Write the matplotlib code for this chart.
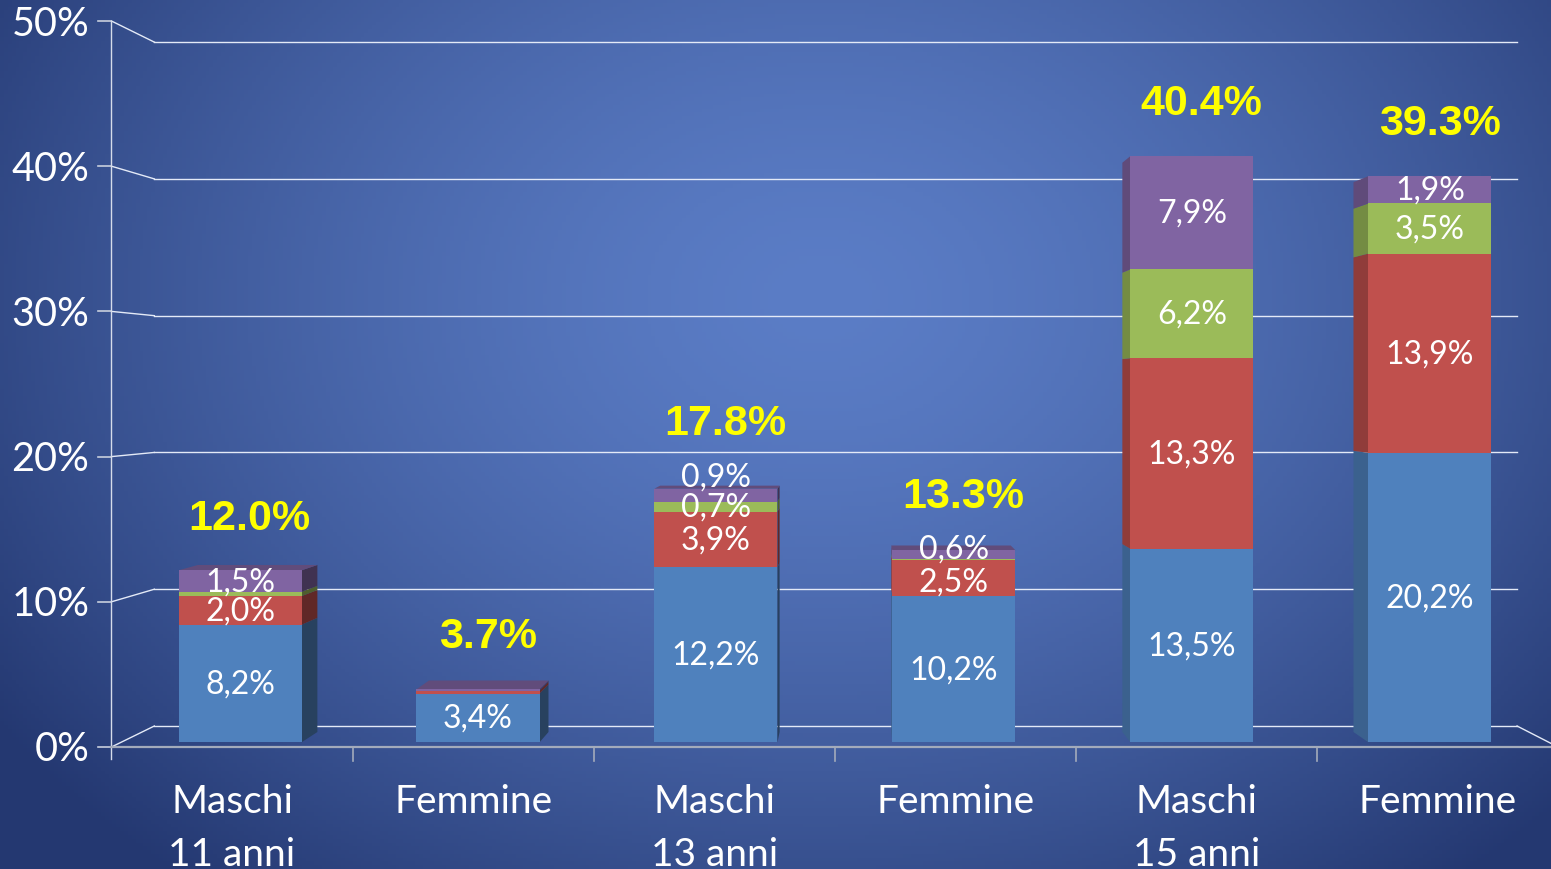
import numpy as np
import matplotlib.pyplot as plt
from matplotlib.patches import Polygon
import matplotlib.colors as mcolors

# ---- data ----
genders = ['Maschi', 'Femmine', 'Maschi', 'Femmine', 'Maschi', 'Femmine']
ages = ['11 anni', '', '13 anni', '', '15 anni', '']
blue_vals = [8.2, 3.4, 12.2, 10.2, 13.5, 20.2]
red_vals = [2.0, 0.2, 3.9, 2.5, 13.3, 13.9]
green_vals = [0.3, 0.0, 0.7, 0.1, 6.2, 3.5]
purple_vals = [1.5, 0.1, 0.9, 0.6, 7.9, 1.9]
totals = [12.0, 3.7, 17.8, 13.3, 40.4, 39.3]
yticks = [0, 10, 20, 30, 40, 50]

series = [blue_vals, red_vals, green_vals, purple_vals]
colors = ['#4f81bd', '#c0504d', '#9bbb59', '#8064a2']

# ---- figure / "3d" geometry ----
W, H = 1551, 870
fig = plt.figure(figsize=(W / 100, H / 100), dpi=100)
ax = fig.add_axes([0, 0, 1, 1])
px_cat, px_pct = 241.1, 14.52      # front plane scale
x0, y0 = 232, 748                 # pixel of category 0 / 0% on front plane
ax.set_xlim(-x0 / px_cat, (W - x0) / px_cat)
ax.set_ylim((y0 - H) / px_pct, y0 / px_pct)
ax.axis('off')

VX, VY = (851 - x0) / px_cat, (y0 - 386) / px_pct   # vanishing point
S_WALL, S_FRONT, S_BACK = 0.942, 0.987, 0.9586


def proj(x, y, s):
    return VX + s * (x - VX), VY + s * (y - VY)


def shade(c, f):
    r, g, b = mcolors.to_rgb(c)
    return (r * f, g * f, b * f)


# background: radial blue gradient
xl, xr = ax.get_xlim()
yb, yt = ax.get_ylim()
gx, gy = np.meshgrid(np.linspace(0, W, 400), np.linspace(0, H, 230))
r = np.sqrt(((gx - 820) / 1000) ** 2 + ((gy - 300) / 760) ** 2)
r = np.clip(r, 0, 1) ** 1.5
c_in = np.array(mcolors.to_rgb('#5b7dc6'))
c_out = np.array(mcolors.to_rgb('#243871'))
img = c_in[None, None, :] * (1 - r[..., None]) + c_out[None, None, :] * r[..., None]
ax.imshow(img, extent=[xl, xr, yb, yt], aspect='auto', zorder=0, origin='upper')

n = len(genders)
left_edge, right_edge = -0.5, n - 0.5
grid_c = '#e4eaf7'

# back wall gridlines + left side wall diagonals
for t in yticks:
    bx0, by0 = proj(left_edge, t, S_WALL)
    bx1, by1 = proj(right_edge, t, S_WALL)
    ax.plot([bx0, bx1], [by0, by1], color=grid_c, lw=1.0, zorder=1)
    ax.plot([left_edge, bx0], [t, by0], color=grid_c, lw=1.0, zorder=1)
    ax.plot([left_edge - 13 / px_cat, left_edge], [t, t], color='#c8cfdd', lw=1.2, zorder=1)
    ax.text(left_edge - 22 / px_cat, t - 2 / px_pct, f'{t}%', ha='right', va='center',
            fontsize=28.5, color='white', family='Lato', zorder=5)
bx1, by1 = proj(right_edge, 0, S_WALL)
ax.plot([bx1, right_edge], [by1, 0], color=grid_c, lw=1.0, zorder=1)

# axis lines
ax.plot([left_edge, left_edge], [-12 / px_pct, 50], color='#d6dcea', lw=1.0, zorder=1)
ax.plot([left_edge, right_edge + 0.2], [0, 0], color='#a3abbb', lw=1.6, zorder=1)
for i in range(n - 1):
    ax.plot([i + 0.5, i + 0.5], [0, -14 / px_pct], color='#a3abbb', lw=1.2, zorder=1)

# bars
bw = 0.517
for i in range(n):
    bl, br = i - bw / 2, i + bw / 2
    cx = VX + S_FRONT * (i - VX)
    bottom = 0.0
    top_label_y = None
    top_color = None
    for k, vals in enumerate(series):
        v = vals[i]
        if v <= 0:
            continue
        y_a, y_b = bottom, bottom + v
        # side face
        if br < VX:
            xe, f = br, 0.5
        elif bl > VX:
            xe, f = bl, 0.75
        else:
            xe = None
        if xe is not None:
            pts = [proj(xe, y_a, S_FRONT), proj(xe, y_b, S_FRONT),
                   proj(xe, y_b, S_BACK), proj(xe, y_a, S_BACK)]
            ax.add_patch(Polygon(pts, closed=True, facecolor=shade(colors[k], f),
                                 edgecolor='none', zorder=2))
        # front face
        _, pa = proj(i, y_a, S_FRONT)
        _, pb = proj(i, y_b, S_FRONT)
        ax.bar(cx, pb - pa, bottom=pa, width=S_FRONT * bw, color=colors[k],
               edgecolor='none', zorder=3)
        if v >= 0.5:
            ly = (pa + pb) / 2
            # small segments: labels pushed apart like in the original
            if k == 3 and v < 1.0:
                ly += 1.3 if green_vals[i] >= 0.5 else 0.4
            if k == 1 and purple_vals[i] < 1.0 and green_vals[i] < 0.5:
                ly -= 0.2
            ax.text(cx, ly, f'{v:.1f}%'.replace('.', ','), ha='center', va='center',
                    fontsize=23, color='white', family='Lato', zorder=4)
            if k == 3:
                top_label_y = ly
        top_color = colors[k]
        bottom = y_b
    # top face (visible below the horizon)
    if bottom < VY:
        pts = [proj(bl, bottom, S_FRONT), proj(br, bottom, S_FRONT),
               proj(br, bottom, S_BACK), proj(bl, bottom, S_BACK)]
        ax.add_patch(Polygon(pts, closed=True, facecolor=shade(top_color, 0.76),
                             edgecolor='none', zorder=2))
    _, ptop = proj(i, bottom, S_FRONT)
    ref = ptop if top_label_y is None else max(ptop, top_label_y)
    ax.annotate(f'{totals[i]:.1f}%', xy=(cx, ref), xytext=(7, 38),
                textcoords='offset points', ha='center', va='center',
                fontsize=31, fontweight='bold', color='#ffff00',
                family='Liberation Sans', zorder=5)

# category labels
for i in range(n):
    ax.text(i, -54 / px_pct, genders[i], ha='center', va='center',
            fontsize=28, color='white', family='Lato', zorder=5)
    if ages[i]:
        ax.text(i, -107 / px_pct, ages[i], ha='center', va='center',
                fontsize=28, color='white', family='Lato', zorder=5)

fig.savefig('out.png', dpi=100)
